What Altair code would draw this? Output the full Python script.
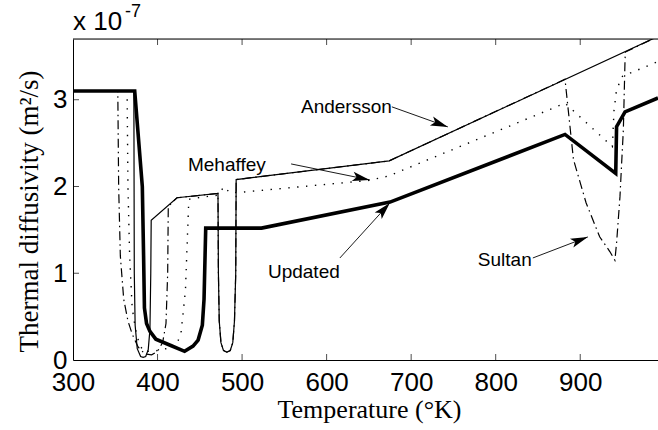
import math
import altair as alt
import pandas as pd

# ---------------- data ----------------
# Temperatures (K) and thermal diffusivity (x 1e-7 m^2/s)
upd_T = [300, 373, 382, 383.5, 384.5, 387, 391, 398, 415, 432, 442, 448, 453, 455, 457,
         523, 675, 882, 942, 943, 953, 992]
upd_D = [3.1, 3.1, 2.0, 1.2, 0.6, 0.42, 0.33, 0.24, 0.17, 0.1, 0.16, 0.23, 0.4, 0.7, 1.52,
         1.52, 1.82, 2.6, 2.15, 2.69, 2.86, 3.02]

and_T = [300, 372, 372.5, 373.5, 376, 380, 383, 386, 389, 391, 392, 392.5, 423, 471.5,
         472, 473, 475, 478, 482, 486, 489, 491, 492.5, 493, 674, 992]
and_D = [3.1, 3.1, 1.0, 0.4, 0.13, 0.04, 0.03, 0.04, 0.12, 0.35, 1.0, 1.61, 1.87, 1.92,
         1.0, 0.45, 0.2, 0.11, 0.09, 0.11, 0.2, 0.45, 1.0, 2.08, 2.295, 3.73]

meh_T = [300, 364, 365, 367, 370, 374, 378, 383, 395, 410, 422, 428, 433, 437, 440, 471,
         479, 485, 495, 650, 673, 882, 938, 940, 943, 950, 992]
meh_D = [3.1, 3.1, 2.0, 1.2, 0.6, 0.35, 0.2, 0.1, 0.1, 0.13, 0.15, 0.33, 0.8, 1.85, 1.86, 1.9,
         2.0, 1.93, 1.93, 2.07, 2.12, 2.96, 2.46, 2.88, 3.12, 3.27, 3.44]

sul_T = [300, 353, 354, 356, 360, 365, 370, 377, 385, 393, 400, 406, 410, 412, 412.7, 423,
         471.5, 472, 473, 475, 478, 482, 486, 489, 491, 492.5, 493, 674, 882, 892, 907, 923,
         935, 941, 943, 947, 949, 951, 953, 953.5, 992]
sul_D = [3.1, 3.1, 2.0, 1.2, 0.7, 0.45, 0.3, 0.15, 0.07, 0.06, 0.1, 0.2, 0.42, 1.0, 1.77, 1.87,
         1.92, 1.0, 0.45, 0.2, 0.11, 0.09, 0.11, 0.2, 0.45, 1.0, 2.08, 2.295, 3.236, 2.31, 1.81, 1.42,
         1.25, 1.15, 1.35, 1.88, 2.27, 2.65, 3.46, 3.55, 3.73]

# annotations: label, text anchor (T, D), arrow start (T, D), arrow tip (T, D)
ann_labels = ["Andersson", "Mehaffey", "Updated", "Sultan"]
ann_text_T = [569.7, 436.0, 530.6, 778.9]
ann_text_D = [2.918, 2.249, 1.015, 1.153]
ann_from_T = [677.2, 558.0, 615.7, 843.9]
ann_from_D = [2.918, 2.26, 1.176, 1.176]
ann_to_T = [743.4, 651.0, 674.8, 909.0]
ann_to_D = [2.687, 2.076, 1.81, 1.419]

x_ticks = [300, 400, 500, 600, 700, 800, 900]
y_ticks = [0, 1, 2, 3]
x_domain = [300, 992]
y_domain = [0, 3.7]

W, H = 585, 321

# ---------------- helpers ----------------
xs = alt.Scale(domain=x_domain, nice=False, zero=False)
ys = alt.Scale(domain=y_domain, nice=False, zero=False)

X_TITLE = "Temperature (°K)"
Y_TITLE = "Thermal diffusivity (m²/s)"

x_axis = alt.Axis(values=x_ticks, ticks=False, grid=False, domain=True,
                  domainColor="black", domainWidth=1, labelFlush=False,
                  labelFont="Liberation Sans", labelFontSize=26, labelColor="black",
                  labelBaseline="alphabetic", labelPadding=30,
                  titleFont="Liberation Serif", titleFontSize=26,
                  titleFontWeight="normal", titleColor="black",
                  titleBaseline="alphabetic", titleX=296, titleY=57)
y_axis = alt.Axis(values=y_ticks, format="d", ticks=False, grid=False, domain=True,
                  domainColor="black", domainWidth=1, labelFlush=False,
                  labelFont="Liberation Sans", labelFontSize=26, labelColor="black",
                  labelPadding=6,
                  titleFont="Liberation Serif", titleFontSize=27,
                  titleFontWeight="normal", titleColor="black",
                  titleAngle=270, titleBaseline="bottom", titleAlign="center",
                  titleX=-30, titleY=172)


def X(field):
    return alt.X(field, scale=xs, axis=x_axis, title=X_TITLE)


def Y(field):
    return alt.Y(field, scale=ys, axis=y_axis, title=Y_TITLE)


def series_df(T, D):
    return pd.DataFrame({"T": T, "D": D, "i": list(range(len(T)))})


def line_layer(T, D, **mark):
    return alt.Chart(series_df(T, D)).mark_line(color="black", clip=True, **mark).encode(
        x=X("T:Q"), y=Y("D:Q"), order=alt.Order("i:Q"))


sultan = line_layer(sul_T, sul_D, strokeWidth=1.2, strokeDash=[9, 4, 1.5, 4])
mehaffey = line_layer(meh_T, meh_D, strokeWidth=1.4, strokeDash=[1.4, 7.5])
andersson = line_layer(and_T, and_D, strokeWidth=1.2)
updated = line_layer(upd_T, upd_D, strokeWidth=3.6, strokeJoin="miter")

# top frame line
frame_df = pd.DataFrame({"D": [y_domain[1]]})
top_line = alt.Chart(frame_df).mark_rule(color="black", strokeWidth=1).encode(y=Y("D:Q"))

# inward ticks (MATLAB style)
xt_df = pd.DataFrame({"T": x_ticks[1:]})
yt_df = pd.DataFrame({"D": y_ticks[1:]})
tick_style = dict(color="black", size=12, thickness=1, clip=True)
bottom_ticks = alt.Chart(xt_df).mark_tick(orient="vertical", **tick_style).encode(
    x=X("T:Q"), y=alt.datum(y_domain[0]))
top_ticks = alt.Chart(xt_df).mark_tick(orient="vertical", **tick_style).encode(
    x=X("T:Q"), y=alt.datum(y_domain[1]))
left_ticks = alt.Chart(yt_df).mark_tick(orient="horizontal", **tick_style).encode(
    y=Y("D:Q"), x=alt.datum(x_domain[0]))

# annotations
px_per_T = W / (x_domain[1] - x_domain[0])
px_per_D = H / (y_domain[1] - y_domain[0])
angles = []
for a, b, c, d in zip(ann_from_T, ann_from_D, ann_to_T, ann_to_D):
    ang = math.degrees(math.atan2(-(d - b) * px_per_D, (c - a) * px_per_T))
    angles.append(ang % 360)

ann_df = pd.DataFrame({
    "label": ann_labels, "T": ann_text_T, "D": ann_text_D,
    "T1": ann_from_T, "D1": ann_from_D, "T2": ann_to_T, "D2": ann_to_D, "ang": angles,
})

ann_text = alt.Chart(ann_df).mark_text(font="Liberation Sans", fontSize=19, color="black",
                                       align="left", baseline="middle").encode(
    x=X("T:Q"), y=Y("D:Q"), text="label:N")

ann_rule = alt.Chart(ann_df).mark_rule(color="black", strokeWidth=0.9).encode(
    x=X("T1:Q"), y=Y("D1:Q"), x2="T2:Q", y2="D2:Q")

ann_head = alt.Chart(ann_df).mark_point(
    shape="M0,0 L-2,-0.55 L-1.55,0 L-2,0.55 Z", filled=True, size=300,
    color="black", opacity=1, strokeWidth=0).encode(
    x=X("T2:Q"), y=Y("D2:Q"), angle=alt.Angle("ang:Q", scale=None))

# exponent label "x 10^-7"
exp_df = pd.DataFrame({"T": [x_domain[0]], "D": [y_domain[1]], "base": ["x 10"], "pw": ["-7"]})
exp_base = alt.Chart(exp_df).mark_text(font="Liberation Sans", fontSize=26, color="black",
                                       align="left", baseline="alphabetic", dy=-9).encode(
    x=X("T:Q"), y=Y("D:Q"), text="base:N")
exp_pow = alt.Chart(exp_df).mark_text(font="Liberation Sans", fontSize=18, color="black",
                                      align="left", baseline="alphabetic", dx=52, dy=-22).encode(
    x=X("T:Q"), y=Y("D:Q"), text="pw:N")

chart = alt.layer(
    sultan, mehaffey, andersson, updated, top_line,
    bottom_ticks, top_ticks, left_ticks,
    ann_rule, ann_head, ann_text, exp_base, exp_pow,
).properties(
    width=W, height=H,
    autosize=alt.AutoSizeParams(type="none"),
    padding={"left": 73, "top": 39, "right": 0, "bottom": 70},
).configure_view(stroke=None).configure(background="white")

chart.save("out.html", embed_options={"renderer": "svg", "actions": False})
